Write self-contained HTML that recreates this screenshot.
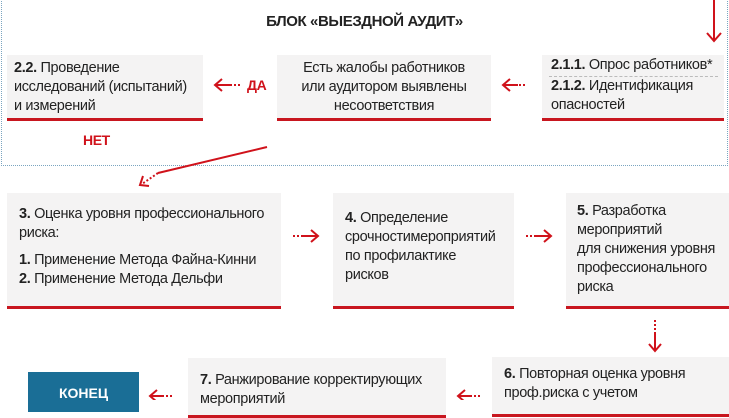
<!DOCTYPE html>
<html><head><meta charset="utf-8"><style>
body{margin:0;width:729px;height:400px;overflow:hidden;background:#fff;position:relative;font-family:"Liberation Sans","DejaVu Sans",sans-serif;color:#222;}
.bx{position:absolute;background:#f4f3f3;border-bottom:3px solid #c8161f;box-sizing:border-box;font-size:14.5px;line-height:19px;letter-spacing:-0.35px;white-space:nowrap;}
b{font-weight:bold}
.t{position:absolute;font-size:14px;letter-spacing:-0.4px;}
.red{color:#d0121b;font-weight:bold;}
</style></head><body>
<div style="position:absolute;left:1px;top:-2px;width:725px;height:167px;border:1px dotted #7aa5c0;border-top:none;"></div>
<div class="t" style="left:0;width:729px;top:13px;text-align:center;font-weight:bold;font-size:15px;">БЛОК «ВЫЕЗДНОЙ АУДИТ»</div>

<div class="bx" style="left:7px;top:55px;width:196px;height:66px;padding:4px 0 0 7px;"><b>2.2.</b> Проведение<br>исследований (испытаний)<br>и измерений</div>
<div class="bx" style="left:277px;top:55px;width:214px;height:66px;padding:4px 0 0 0;text-align:center;">Есть жалобы работников<br>или аудитором выявлены<br>несоответствия</div>
<div class="bx" style="left:542px;top:55px;width:182px;height:66px;padding:1px 0 0 9px;"><b>2.1.1.</b> Опрос работников*<div style="border-top:1px dashed #bbb;margin:1px 6px 0 -2px;"></div><b>2.1.2.</b> Идентификация<br>опасностей</div>
<div class="t red" style="left:247px;top:77px;">ДА</div>
<div class="t red" style="left:83px;top:132px;">НЕТ</div>

<div class="bx" style="left:7px;top:193px;width:274px;height:116px;padding:12px 0 0 12px;"><b>3.</b> Оценка уровня профессионального<br>риска:<div style="height:8px"></div><b>1.</b> Применение Метода Файна-Кинни<br><b>2.</b> Применение Метода Дельфи</div>
<div class="bx" style="left:333px;top:193px;width:181px;height:116px;padding:16px 0 0 12px;"><b>4.</b> Определение<br>срочностимероприятий<br>по профилактике<br>рисков</div>
<div class="bx" style="left:566px;top:193px;width:163px;height:116px;padding:9px 0 0 11px;"><b>5.</b> Разработка<br>мероприятий<br>для снижения уровня<br>профессионального<br>риска</div>

<div class="bx" style="left:492px;top:357px;width:237px;height:60px;padding:8px 0 0 12px;"><b>6.</b> Повторная оценка уровня<br>проф.риска с учетом</div>
<div class="bx" style="left:188px;top:358px;width:258px;height:60px;padding:13px 0 0 12px;"><b>7.</b> Ранжирование корректирующих<br>мероприятий</div>
<div style="position:absolute;left:28px;top:372px;width:111px;height:40px;background:#1a6e96;color:#fff;font-weight:bold;font-size:14px;text-align:center;padding-top:13px;box-sizing:border-box;">КОНЕЦ</div>

<svg width="729" height="400" style="position:absolute;left:0;top:0" fill="none" stroke="#d0121b" stroke-width="2">
<line x1="714" y1="0" x2="714" y2="40"/><polyline points="707,33 714,41 721,33"/>
<line x1="240" y1="85" x2="215" y2="85" stroke-dasharray="2 2" /><line x1="232" y1="85" x2="215" y2="85"/><polyline points="222,79 215,85 222,91"/>
<line x1="525" y1="85" x2="503" y2="85" stroke-dasharray="2 2"/><line x1="518" y1="85" x2="503" y2="85"/><polyline points="510,79 503,85 510,91"/>
<line x1="267" y1="147" x2="158" y2="173"/><line x1="158" y1="173" x2="142" y2="184" stroke-dasharray="2 2"/><polyline points="143,176 140,185 149,186" />
<line x1="293" y1="236" x2="317" y2="236" stroke-dasharray="2 2"/><line x1="302" y1="236" x2="318" y2="236"/><polyline points="311,230 318,236 311,242"/>
<line x1="526" y1="236" x2="550" y2="236" stroke-dasharray="2 2"/><line x1="535" y1="236" x2="551" y2="236"/><polyline points="544,230 551,236 544,242"/>
<line x1="655" y1="320" x2="655" y2="350" stroke-dasharray="2 2"/><line x1="655" y1="332" x2="655" y2="351"/><polyline points="649,344 655,351 661,344"/>
<line x1="480" y1="396" x2="458" y2="396" stroke-dasharray="2 2"/><line x1="472" y1="396" x2="458" y2="396"/><polyline points="465,390 458,396 465,402"/>
<line x1="172" y1="396" x2="150" y2="396" stroke-dasharray="2 2"/><line x1="164" y1="396" x2="150" y2="396"/><polyline points="157,390 150,396 157,402"/>
</svg>
</body></html>
